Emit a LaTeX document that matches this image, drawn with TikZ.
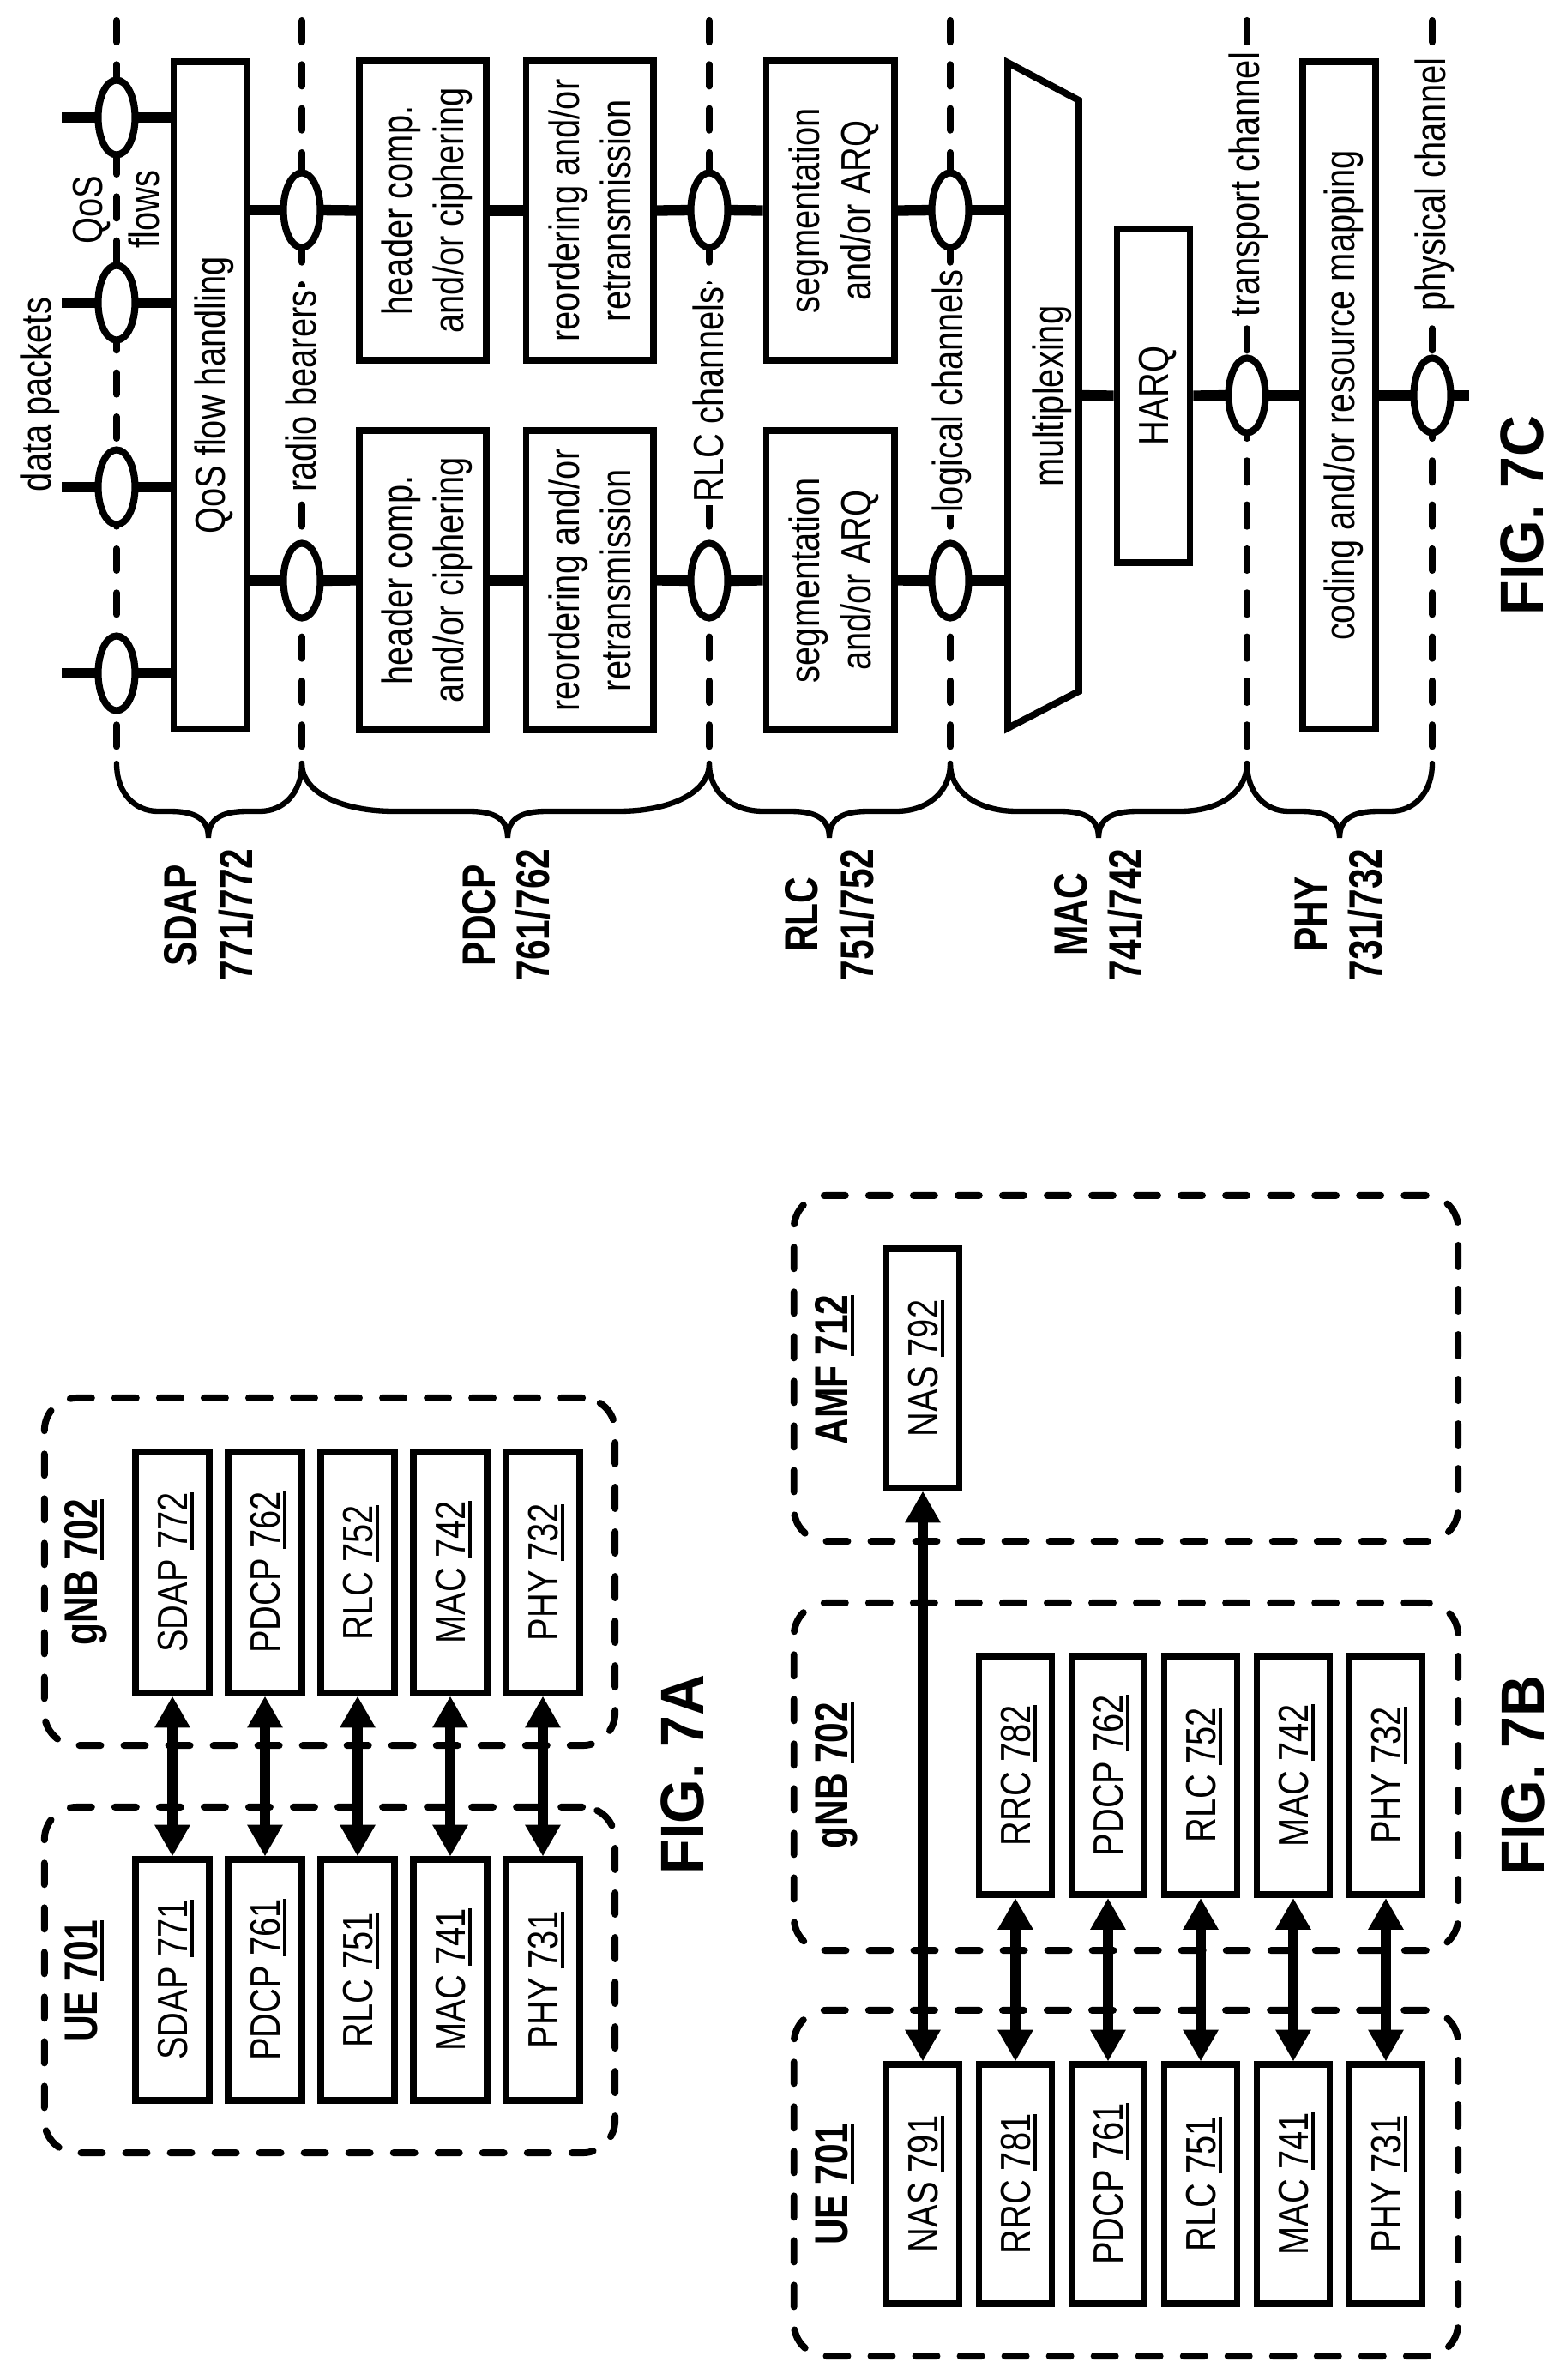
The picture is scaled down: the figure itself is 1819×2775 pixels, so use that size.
\documentclass[tikz,border=0pt]{standalone}
\usepackage{fontspec}
\setmainfont[FakeStretch=0.81]{Liberation Sans}
\newfontfamily\boldlab[FakeStretch=0.78]{Liberation Sans}
\newfontfamily\figfont[FakeStretch=0.93]{Liberation Sans}
\usetikzlibrary{arrows.meta,shapes.geometric}
\makeatletter
\newcommand{\rt}[1]{\rotatebox{90}{\raisebox{-\dimexpr.358\dimexpr\f@size pt\relax-.2\baselineskip\relax}[\height][\depth]{\begin{tabular}{@{}c@{}}#1\end{tabular}}}}
\makeatother
\newcommand{\ul}[1]{\leavevmode\setbox0\hbox{#1}\rlap{\rule[-2.1pt]{\wd0}{1.15pt}}\box0}
\tikzset{
  every node/.style={font=\fontsize{14}{17}\selectfont,inner sep=0pt,outer sep=0pt},
  boxed/.style={draw=black,line width=2.25pt,fill=white,outer sep=1.1pt},
  boxA/.style={boxed,minimum width=.86cm,minimum height=2.80cm},
  boxB/.style={boxed,minimum width=.85cm,minimum height=2.78cm},
  group/.style={draw=black,line width=2.25pt,line cap=round,dash pattern=on .25cm off .27cm,rounded corners=.38cm},
  dbl/.style={line width=3.6pt,{Triangle[width=.39cm,length=.37cm]}-{Triangle[width=.39cm,length=.37cm]}},
  blab/.style={font=\boldlab\fontsize{15.5}{18}\selectfont\bfseries},
  figlab/.style={font=\figfont\fontsize{20.3}{24}\selectfont\bfseries},
  dashln/.style={line width=2.3pt,line cap=round,dash pattern=on .25cm off .263cm},
  oval/.style={ellipse,draw=black,line width=2.3pt,fill=white,minimum width=.43cm,minimum height=.87cm},
  link/.style={line width=3.5pt},
  chan/.style={fill=white,inner xsep=0pt,inner ysep=1pt},
  bracel/.style={line width=1.8pt,line cap=round},
  headbox/.style={boxed,minimum width=1.48cm,minimum height=3.49cm},
  segbox/.style={boxed,minimum width=1.49cm,minimum height=3.49cm},
  tallbox/.style={boxed,minimum width=.85cm,minimum height=7.77cm},
}
\newcommand{\mybrace}[3]{\draw[bracel] (#1,890) .. controls (#1,925) and ({#1+.2*(#2-#1)},946) .. ({#1+.45*(#2-#1)},946) -- (#2-45,946) .. controls (#2-15,946) and (#2,955) .. (#2,977) .. controls (#2,955) and (#2+15,946) .. (#2+45,946) -- ({#3-.45*(#3-#2)},946) .. controls ({#3-.2*(#3-#2)},946) and (#3,925) .. (#3,890);}
\begin{document}
\begin{tikzpicture}[x=.01cm,y=-.01cm]
\fill[white] (0,0) rectangle (1819,2775);
\useasboundingbox (0,0) rectangle (1819,2775);

%% ---------- FIG. 7C ----------
\foreach \n/\x in {a/136,b/352,c/827,d/1108,e/1454,f/1670}{
  \coordinate (top\n) at (\x,24);
  \coordinate (bot\n) at (\x,871);
  \draw[dashln] (top\n) -- (bot\n);
}
\mybrace{136}{243}{352}
\mybrace{352}{592}{827}
\mybrace{827}{967}{1108}
\mybrace{1108}{1281}{1454}
\mybrace{1454}{1562}{1670}

% boxes
\node[tallbox] (qos) at (245,461) {\rt{QoS flow handling}};
\node[headbox] (h1) at (493,245.5) {\rt{header comp.\\and/or ciphering}};
\node[headbox] (h2) at (493,676.5) {\rt{header comp.\\and/or ciphering}};
\node[headbox] (r1) at (687.5,245.5) {\rt{reordering and/or\\retransmission}};
\node[headbox] (r2) at (687.5,676.5) {\rt{reordering and/or\\retransmission}};
\node[segbox] (s1) at (968,245.5) {\rt{segmentation\\and/or ARQ}};
\node[segbox] (s2) at (968,676.5) {\rt{segmentation\\and/or ARQ}};
\coordinate (muxTL) at (1175,73);
\coordinate (muxTR) at (1258,117);
\coordinate (muxBR) at (1258,806);
\coordinate (muxBL) at (1175,849);
\coordinate (muxout) at (1259,461);
\draw[line width=2.25pt,fill=white,line join=miter] (muxTL) -- (muxTR) -- (muxBR) -- (muxBL) -- cycle;
\node (muxtext) at (1222,462) {\rt{multiplexing}};
\node[boxed,minimum width=.85cm,minimum height=3.88cm] (harq) at (1345,461.5) {\rt{HARQ}};
\node[tallbox] (cod) at (1561.5,461) {\rt{coding and/or resource mapping}};

% ovals
\foreach \n/\y in {1/137,2/353,3/568,4/785}{
  \node[oval] (q\n) at (136,\y) {};
  \coordinate (qin\n) at (72,\y);
  \draw[link] (qin\n) -- (q\n.west);
  \draw[link] (q\n.east) -- (q\n -| qos.west);
}
\node[oval] (rb1) at (352,245) {};
\node[oval] (rb2) at (352,677) {};
\node[oval] (rl1) at (827,245) {};
\node[oval] (rl2) at (827,677) {};
\node[oval] (lc1) at (1108,245) {};
\node[oval] (lc2) at (1108,677) {};
\node[oval] (tc) at (1454,461) {};
\node[oval] (pc) at (1670,461) {};
\coordinate (pcout) at (1713,461);
\foreach \n in {1,2}{
  \draw[link] (rb\n -| qos.east) -- (rb\n.west);
  \draw[link] (rb\n.east) -- (h\n.west);
  \draw[link] (h\n.east) -- (r\n.west);
  \draw[link] (r\n.east) -- (rl\n.west);
  \draw[link] (rl\n.east) -- (s\n.west);
  \draw[link] (s\n.east) -- (lc\n.west);
  \draw[link] (lc\n.east) -- (lc\n -| muxTL);
}
\draw[link] (muxout) -- (harq.west);
\draw[link] (harq.east) -- (tc.west);
\draw[link] (tc.east) -- (cod.west);
\draw[link] (cod.east) -- (pc.west);
\draw[link] (pc.east) -- (pcout);

% channel labels
\node (dp) at (42,460) {\rt{data packets}};
\node (qa) at (102,245) {\rt{QoS}};
\node (qb) at (168,244) {\rt{flows}};
\node[chan] (rbl) at (351,456) {\rt{radio bearers}};
\node[chan] (rll) at (826,460) {\rt{RLC channels}};
\node[chan] (lcl) at (1105,456) {\rt{logical channels}};
\node[chan] (tcl) at (1451,215) {\rt{transport channel}};
\node[chan] (pcl) at (1668,215) {\rt{physical channel}};

% layer labels
\node[blab] (l1a) at (210,1067) {\rt{SDAP}};
\node[blab] (l1b) at (274.5,1066.5) {\rt{771/772}};
\node[blab] (l2a) at (558,1067) {\rt{PDCP}};
\node[blab] (l2b) at (621,1066.5) {\rt{761/762}};
\node[blab] (l3a) at (934,1066) {\rt{RLC}};
\node[blab] (l3b) at (998.5,1066.5) {\rt{751/752}};
\node[blab] (l4a) at (1248,1066) {\rt{MAC}};
\node[blab] (l4b) at (1312,1066.5) {\rt{741/742}};
\node[blab] (l5a) at (1527.5,1066) {\rt{PHY}};
\node[blab] (l5b) at (1592,1066.5) {\rt{731/732}};
\node[figlab] (f7c) at (1774,601) {\rt{FIG. 7C}};

%% ---------- FIG. 7A ----------
\node[group,minimum width=6.65cm,minimum height=4.05cm] (agnb) at (384.5,1832.5) {};
\node[group,minimum width=6.65cm,minimum height=4.03cm] (aue) at (384.5,2308.5) {};
\foreach \n/\x/\lab/\g/\u in {
  1/201/SDAP/772/771,
  2/309/PDCP/762/761,
  3/417/RLC/752/751,
  4/525/MAC/742/741,
  5/633/PHY/732/731}{
  \node[boxA] (ag\n) at (\x,1833.5) {\rt{\lab\ \ul{\g}}};
  \node[boxA] (au\n) at (\x,2308.5) {\rt{\lab\ \ul{\u}}};
  \draw[dbl] (ag\n.south) -- (au\n.north);
}
\node[blab] (agl) at (94,1833) {\rt{gNB \ul{702}}};
\node[blab] (aul) at (94,2310) {\rt{UE \ul{701}}};
\node[figlab] (f7a) at (795,2069) {\rt{FIG. 7A}};

%% ---------- FIG. 7B ----------
\node[group,minimum width=7.74cm,minimum height=4.03cm] (bamf) at (1313,1595.5) {};
\node[group,minimum width=7.74cm,minimum height=4.05cm] (bgnb) at (1313,2071.5) {};
\node[group,minimum width=7.74cm,minimum height=4.03cm] (bue) at (1313,2545.5) {};
\node[boxB] (bn2) at (1076,1595.5) {\rt{NAS \ul{792}}};
\node[boxB] (bn1) at (1076,2546.5) {\rt{NAS \ul{791}}};
\draw[dbl] (bn2.south) -- (bn1.north);
\foreach \n/\x/\lab/\g/\u in {
  1/1184/RRC/782/781,
  2/1292/PDCP/762/761,
  3/1400/RLC/752/751,
  4/1508/MAC/742/741,
  5/1616/PHY/732/731}{
  \node[boxB] (bg\n) at (\x,2070) {\rt{\lab\ \ul{\g}}};
  \node[boxB] (bu\n) at (\x,2546.5) {\rt{\lab\ \ul{\u}}};
  \draw[dbl] (bg\n.south) -- (bu\n.north);
}
\node[blab] (bal) at (969,1597) {\rt{AMF \ul{712}}};
\node[blab] (bgl) at (969,2070) {\rt{gNB \ul{702}}};
\node[blab] (bul) at (969,2547) {\rt{UE \ul{701}}};
\node[figlab] (f7b) at (1775,2070) {\rt{FIG. 7B}};
\end{tikzpicture}
\end{document}
